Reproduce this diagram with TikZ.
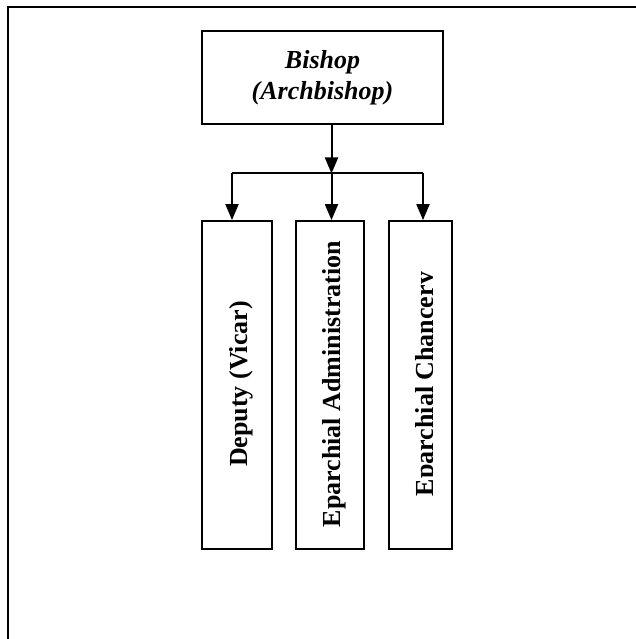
\documentclass[tikz,border=0pt]{standalone}
\usepackage{fontspec}
\setmainfont{Liberation Serif}
\usetikzlibrary{arrows.meta}

\tikzset{
  frameline/.style={line width=2pt},
  headbox/.style={draw, line width=1.8pt, minimum width=241pt, minimum height=93pt,
    inner sep=0pt, align=center, font=\fontsize{26}{31}\selectfont\bfseries\itshape},
  unitbox/.style={draw, line width=1.8pt, inner sep=0pt},
  vtext/.style={rotate=90, inner sep=0pt, font=\fontsize{26}{31}\selectfont\bfseries},
  link/.style={line width=2pt},
  linkarrow/.style={line width=2pt, -{Triangle[length=16pt,width=13pt]}}
}

\begin{document}
\begin{tikzpicture}[x=1pt, y=-1pt]
  \useasboundingbox (0,0) rectangle (636,639);

  % page frame (left and top edges)
  \draw[frameline] (8,639) -- (8,7) -- (636,7);

  % head of the eparchy
  \node[headbox] (bishop) at (322.5,77.5) {Bishop\\(Archbishop)};

  % subordinate offices
  \node[unitbox, minimum width=70pt, minimum height=328pt] (deputy) at (237,385) {};
  \node[unitbox, minimum width=68pt, minimum height=328pt] (admin) at (330,385) {};
  \node[unitbox, minimum width=63pt, minimum height=328pt] (chancery) at (420.5,385) {};

  \node[vtext] (deputytext) at (241,384) {Deputy (Vicar)};
  \node[vtext] (admintext) at (334,384) {Eparchial Administration};
  \begin{scope}
    \clip (389,221) rectangle (432.5,549);
    \node[vtext] (chancerytext) at (427,384) {Eparchial Chancery};
  \end{scope}

  % distribution line
  \coordinate (hub) at (331.5,173.5);
  \coordinate (jl) at (232,173.5);
  \coordinate (jm) at (331.5,173.5);
  \coordinate (jr) at (423,173.5);

  \draw[linkarrow] (bishop.south -| hub) -- (hub);
  \draw[link] (jl) -- (jr);
  \draw[linkarrow] (jl) -- (jl |- deputy.north);
  \draw[linkarrow] (jm) -- (jm |- admin.north);
  \draw[linkarrow] (jr) -- (jr |- chancery.north);
\end{tikzpicture}
\end{document}
